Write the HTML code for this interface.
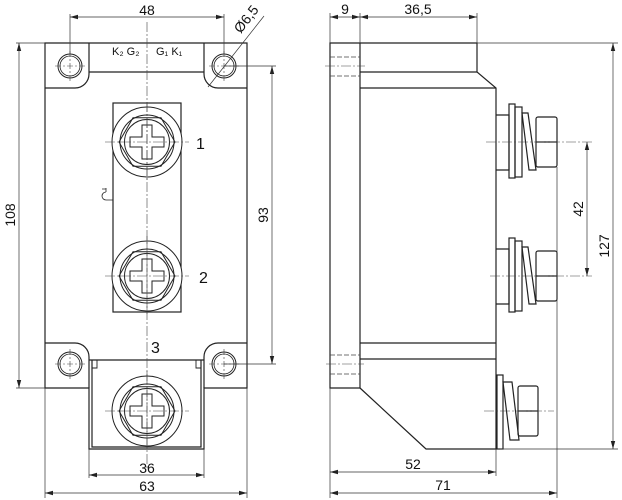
<!DOCTYPE html>
<html><head><meta charset="utf-8"><style>
html,body{margin:0;padding:0;background:#fff}
svg{display:block}
text{font-family:"Liberation Sans",Arial,sans-serif;fill:#111}
</style></head><body>
<svg width="622" height="500" viewBox="0 0 622 500" xmlns="http://www.w3.org/2000/svg">
<defs>
<marker id="a" markerWidth="8" markerHeight="6" refX="8" refY="3" orient="auto-start-reverse" markerUnits="userSpaceOnUse"><path d="M0,0.8 L8,3 L0,5.2z" fill="#222"/></marker>
<g id="scr">
<circle r="35" fill="#fff" stroke="#222" stroke-width="1"/>
<polygon points="28,0 14,24.2 -14,24.2 -28,0 -14,-24.2 14,-24.2" fill="none" stroke="#222" stroke-width="1"/>
<circle r="27" fill="none" stroke="#222" stroke-width="1"/>
<circle r="22.5" fill="none" stroke="#222" stroke-width="1"/>
<path d="M-5,-17 H5 V-5 H17 V5 H5 V17 H-5 V5 H-17 V-5 H-5z" fill="#fff" stroke="#222" stroke-width="1"/>
<path d="M-42,0 H42 M0,-40 V40" stroke="#444" stroke-width="0.6" stroke-dasharray="10,2,2,2"/>
</g>
<g id="hole">
<circle r="12" fill="none" stroke="#222" stroke-width="1"/>
<circle r="10" fill="none" stroke="#222" stroke-width="0.8"/>
<path d="M-15,0 H15 M0,-15 V15" stroke="#444" stroke-width="0.6" stroke-dasharray="6,2,2,2"/>
</g>
</defs>
<g fill="none" stroke="#222" stroke-width="1.2">
<path d="M45,43 H247 V388 H204 V449 H89 V388 H45 Z"/>
<path d="M45,88 H75 A14,14 0 0 0 89,74 V43"/>
<path d="M89,72 H204"/>
<path d="M247,88 H218 A14,14 0 0 1 204,74 V43"/>
<path d="M45,343 H75 A14,14 0 0 1 89,357 V388"/>
<path d="M247,343 H218 A14,14 0 0 0 204,357 V388"/>
<path d="M89,360 H204"/>
<path d="M92,360 V447 H201 V360"/>
<path d="M92,360 H97 V368 H92 M201,360 H196 V368 H201" stroke-width="0.9"/>
<rect x="113" y="103" width="68" height="209"/>
<path d="M106,188 V192 M102,189 H106 M106,192 A4,4 0 0 0 106,200 H113" stroke-width="0.8"/>
</g>
<use href="#hole" x="70" y="66"/><use href="#hole" x="224" y="66"/>
<use href="#hole" x="70" y="364"/><use href="#hole" x="224" y="364"/>
<use href="#scr" x="147" y="142"/><use href="#scr" x="147" y="276"/><use href="#scr" x="147" y="411"/>
<path d="M147,22 V470" stroke="#444" stroke-width="0.6" stroke-dasharray="10,2,2,2"/>
<text x="112" y="55" font-size="11">K₂ G₂</text><text x="156" y="55" font-size="11">G₁ K₁</text>
<text x="196" y="149" font-size="16">1</text><text x="199" y="283" font-size="16">2</text><text x="151" y="353" font-size="16">3</text>
<g stroke="#333" stroke-width="0.7" fill="none">
<path d="M70,14 V54 M224,14 V54"/>
<path d="M70,17 H224" marker-start="url(#a)" marker-end="url(#a)"/>
<path d="M16,43 H45 M16,388 H45"/>
<path d="M19,43 V388" marker-start="url(#a)" marker-end="url(#a)"/>
<path d="M224,66 H276 M224,364 H276"/>
<path d="M272,66 V364" marker-start="url(#a)" marker-end="url(#a)"/>
<path d="M89,449 V478 M204,449 V478 M45,388 V498 M247,388 V498"/>
<path d="M89,475 H204" marker-start="url(#a)" marker-end="url(#a)"/>
<path d="M45,493 H247" marker-start="url(#a)" marker-end="url(#a)"/>
<path d="M208,87 L264,16"/>
</g>
<text x="147" y="15" font-size="14" text-anchor="middle">48</text>
<text x="147" y="473" font-size="14" text-anchor="middle">36</text>
<text x="147" y="491" font-size="14" text-anchor="middle">63</text>
<text transform="translate(15,215) rotate(-90)" font-size="14" text-anchor="middle">108</text>
<text transform="translate(268,215) rotate(-90)" font-size="14" text-anchor="middle">93</text>
<text transform="translate(250,22) rotate(-52)" font-size="14" text-anchor="middle">Ø6,5</text>
<g fill="none" stroke="#222" stroke-width="1.2">
<path d="M330,43 H360 V388 H330 Z"/>
<path d="M360,43 H477 V72 L496,88 V449 H426 L360,388"/>
<path d="M360,72 H477 M360,88 H496 M360,343 H496 M360,359 H496"/>
<path d="M496,115 H509 V170 H496"/>
<rect x="509" y="104" width="6" height="74"/>
<rect x="515" y="107" width="7" height="70"/>
<path d="M522,113 L528,113 L536,170 L529,170 Z"/>
<rect x="536" y="117" width="21" height="50" rx="2"/>
<path d="M536,142 H557"/>
<path d="M496,249 H509 V304 H496"/>
<rect x="509" y="238" width="6" height="74"/>
<rect x="515" y="241" width="7" height="70"/>
<path d="M522,247 L528,247 L536,304 L529,304 Z"/>
<rect x="536" y="251" width="21" height="50" rx="2"/>
<path d="M536,276 H557"/>
<rect x="497" y="375" width="6" height="74"/>
<path d="M503,382 L512,382 L519,440 L510,440 Z"/>
<rect x="518" y="386" width="20" height="50" rx="2"/>
<path d="M518,411 H538"/>
</g>
<g stroke="#444" stroke-width="0.7" fill="none" stroke-dasharray="5,2">
<path d="M330,57 H360 M330,76 H360 M330,355 H360 M330,374 H360"/>
</g>
<g stroke="#444" stroke-width="0.6" fill="none" stroke-dasharray="10,2,2,2">
<path d="M325,66 H365 M326,364 H364 M486,142 H592 M490,276 H592 M484,411 H554"/>
</g>
<g stroke="#333" stroke-width="0.7" fill="none">
<path d="M330,13 V43 M360,13 V43 M477,13 V43"/>
<path d="M330,17 H360" marker-start="url(#a)" marker-end="url(#a)"/>
<path d="M360,17 H477" marker-start="url(#a)" marker-end="url(#a)"/>
<path d="M477,43 H618 M500,449 H618"/>
<path d="M613,43 V449" marker-start="url(#a)" marker-end="url(#a)"/>
<path d="M587,142 V276" marker-start="url(#a)" marker-end="url(#a)"/>
<path d="M330,388 V498 M496,449 V476 M557,167 V498"/>
<path d="M330,472 H496" marker-start="url(#a)" marker-end="url(#a)"/>
<path d="M330,493 H557" marker-start="url(#a)" marker-end="url(#a)"/>
</g>
<text x="345" y="14" font-size="14" text-anchor="middle">9</text>
<text x="418" y="14" font-size="14" text-anchor="middle">36,5</text>
<text x="413" y="469" font-size="14" text-anchor="middle">52</text>
<text x="443" y="490" font-size="14" text-anchor="middle">71</text>
<text transform="translate(583,209) rotate(-90)" font-size="14" text-anchor="middle">42</text>
<text transform="translate(609,246) rotate(-90)" font-size="14" text-anchor="middle">127</text>
</svg>
</body></html>
